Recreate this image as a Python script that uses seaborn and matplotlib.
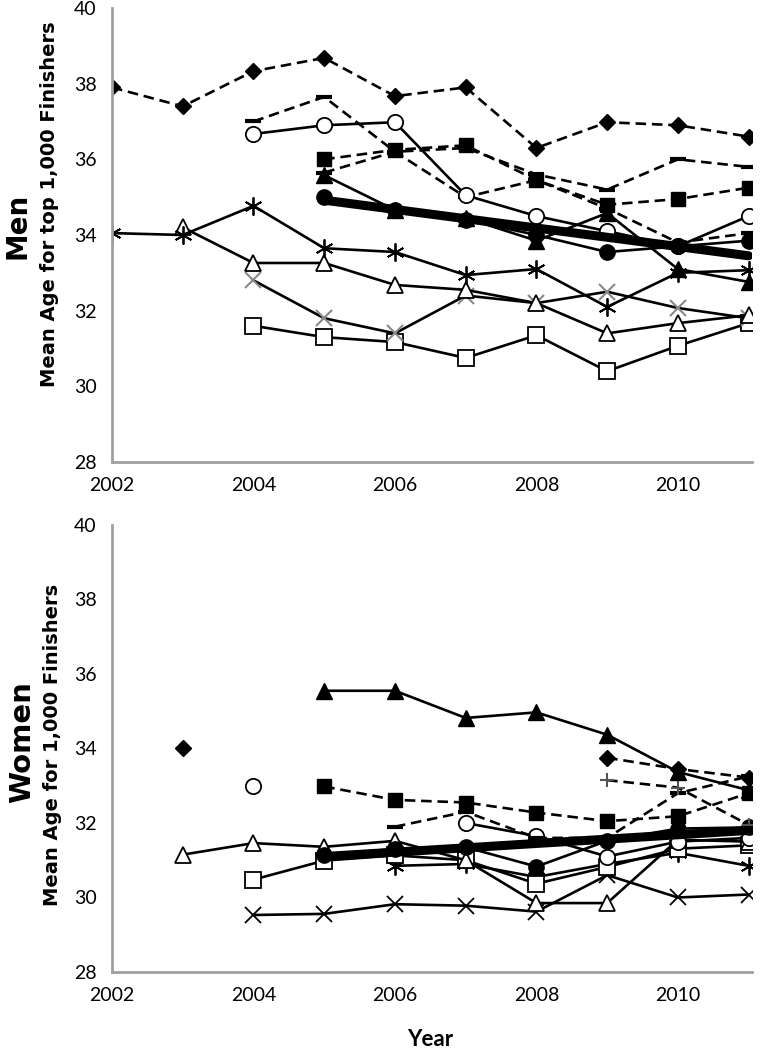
import numpy as np
import matplotlib
matplotlib.use("Agg")
import matplotlib.pyplot as plt
import seaborn as sns

nan = np.nan

# ====================
# DATA
# ====================
years = [2002, 2003, 2004, 2005, 2006, 2007, 2008, 2009, 2010, 2011]
trend_years = [2005, 2011]

men_diamond = [37.9, 37.4, 38.33, 38.68, 37.67, 37.9, 36.3, 36.98, 36.9, 36.6]
men_dash_a = [nan, nan, 37.0, 37.65, 36.2, 35.0, 35.45, 34.7, 33.8, 34.05]
men_dash_b = [nan, nan, nan, 35.65, 36.2, 36.3, 35.6, 35.2, 36.0, 35.8]
men_square_f = [nan, nan, nan, 36.0, 36.25, 36.37, 35.45, 34.8, 34.95, 35.25]
men_circle_o = [nan, nan, 36.67, 36.9, 36.98, 35.05, 34.5, 34.1, 33.7, 34.5]
men_triangle_f = [nan, nan, nan, 35.58, 34.66, 34.45, 33.85, 34.58, 33.1, 32.76]
men_circle_f = [nan, nan, nan, 35.0, 34.66, 34.4, 34.0, 33.55, 33.7, 33.85]
men_star = [34.05, 34.0, 34.77, 33.65, 33.55, 32.94, 33.1, 32.1, 33.0, 33.07]
men_triangle_o = [nan, 34.2, 33.26, 33.26, 32.68, 32.55, 32.2, 31.4, 31.67, 31.88]
men_x = [nan, nan, 32.8, 31.8, 31.4, 32.4, 32.2, 32.5, 32.07, 31.8]
men_square_o = [nan, nan, 31.6, 31.3, 31.17, 30.75, 31.35, 30.4, 31.07, 31.67]
men_trend = [34.92, 33.45]

women_diamond = [nan, 34.0, nan, nan, nan, nan, nan, 33.75, 33.45, 33.22]
women_plus = [nan, nan, nan, nan, nan, nan, nan, 33.15, 32.95, 31.95]
women_dash = [nan, nan, nan, nan, 31.9, 32.3, 31.6, 31.6, 32.8, 33.25]
women_square_f = [nan, nan, nan, 32.98, 32.62, 32.55, 32.28, 32.05, 32.18, 32.8]
women_triangle_f = [nan, nan, nan, 35.55, 35.55, 34.82, 34.97, 34.37, 33.37, 32.88]
women_circle_o = [nan, nan, 33.0, nan, nan, 32.0, 31.65, 31.1, 31.5, 31.6]
women_circle_f = [nan, nan, nan, 31.15, 31.3, 31.35, 30.83, 31.52, 31.85, 31.88]
women_triangle_o = [nan, 31.15, 31.46, 31.36, 31.52, 31.0, 29.85, 29.85, 31.55, 31.5]
women_square_o = [nan, nan, 30.48, 30.99, 31.13, 31.0, 30.37, 30.82, 31.31, 31.4]
women_star = [nan, nan, nan, nan, 30.85, 30.9, 30.55, 30.9, 31.2, 30.85]
women_x = [nan, nan, 29.53, 29.56, 29.82, 29.78, 29.62, 30.6, 30.0, 30.08]
women_trend = [31.1, 31.8]

# ====================
# STYLE
# ====================
sns.set_style("white")
plt.rcParams["font.family"] = ["Lato", "DejaVu Sans"]
plt.rcParams["text.color"] = "black"
plt.rcParams["xtick.labelcolor"] = "black"
plt.rcParams["ytick.labelcolor"] = "black"

AXIS_GRAY = "#a0a0a0"

# marker style per series kind: (marker, size, face, edge, linestyle, mew)
styles = {
    "diamond": ("D", 8, "black", "black", "--", 1.0),
    "dash": ("_", 11, "black", "black", "--", 3.0),
    "plus": ("+", 10, "black", "#555555", "--", 1.5),
    "square_f": ("s", 10, "black", "black", "--", 1.0),
    "circle_o": ("o", 11, "white", "black", "-", 1.3),
    "triangle_f": ("^", 11, "black", "black", "-", 1.0),
    "circle_f": ("o", 11, "black", "black", "-", 1.0),
    "star": ((6, 2, 0), 13, "black", "black", "-", 1.3),
    "triangle_o": ("^", 12, "white", "black", "-", 1.3),
    "x": ("x", 11, "#888888", "#888888", "-", 1.5),
    "square_o": ("s", 11, "white", "black", "-", 1.3),
    "xx": ("x", 11, "black", "black", "-", 1.3),
}


def draw_series(ax, values, kind):
    marker, ms, face, edge, ls, mew = styles[kind]
    vals = np.array(values, dtype=float)
    yrs = np.array(years)
    # split into contiguous runs so gaps stay gaps
    runs = []
    cur = []
    for i, v in enumerate(vals):
        if np.isnan(v):
            if cur:
                runs.append(cur)
            cur = []
        else:
            cur.append(i)
    if cur:
        runs.append(cur)
    for r in runs:
        sns.lineplot(
            x=yrs[r], y=vals[r], ax=ax, color="black", linewidth=1.9,
            linestyle=ls, marker=marker, markersize=ms,
            markerfacecolor=face, markeredgecolor=edge, markeredgewidth=mew,
            estimator=None, sort=False, legend=False,
        )
        if ls == "--":
            ax.lines[-1].set_dashes((4, 2.2))


def style_axes(ax):
    ax.set_xlim(2002, 2011.05)
    ax.set_ylim(28, 40)
    ax.set_xticks([2002, 2004, 2006, 2008, 2010])
    ax.set_yticks([28, 30, 32, 34, 36, 38, 40])
    ax.set_xlabel("")
    ax.set_ylabel("")
    for side in ["top", "right"]:
        ax.spines[side].set_visible(False)
    for side in ["left", "bottom"]:
        ax.spines[side].set_color(AXIS_GRAY)
        ax.spines[side].set_linewidth(2.0)
    ax.tick_params(axis="both", which="major", direction="out", length=6,
                   width=2.0, color=AXIS_GRAY, labelsize=14, pad=5)


fig = plt.figure(figsize=(7.63, 10.5), dpi=100)
ax_men = fig.add_axes([0.1468, 0.56, 0.839, 0.4324])
ax_women = fig.add_axes([0.1468, 0.0743, 0.839, 0.4257])

# ====================
# MEN
# ====================
draw_series(ax_men, men_diamond, "diamond")
draw_series(ax_men, men_dash_a, "dash")
draw_series(ax_men, men_dash_b, "dash")
draw_series(ax_men, men_square_f, "square_f")
draw_series(ax_men, men_square_o, "square_o")
draw_series(ax_men, men_x, "x")
draw_series(ax_men, men_triangle_o, "triangle_o")
draw_series(ax_men, men_star, "star")
draw_series(ax_men, men_circle_o, "circle_o")
draw_series(ax_men, men_triangle_f, "triangle_f")
draw_series(ax_men, men_circle_f, "circle_f")
sns.lineplot(x=trend_years, y=men_trend, ax=ax_men, color="black",
             linewidth=6.5, estimator=None, legend=False)
style_axes(ax_men)

# ====================
# WOMEN
# ====================
draw_series(ax_women, women_x, "xx")
draw_series(ax_women, women_star, "star")
draw_series(ax_women, women_square_o, "square_o")
draw_series(ax_women, women_triangle_o, "triangle_o")
draw_series(ax_women, women_circle_o, "circle_o")
draw_series(ax_women, women_circle_f, "circle_f")
draw_series(ax_women, women_square_f, "square_f")
draw_series(ax_women, women_dash, "dash")
draw_series(ax_women, women_plus, "plus")
draw_series(ax_women, women_diamond, "diamond")
draw_series(ax_women, women_triangle_f, "triangle_f")
sns.lineplot(x=trend_years, y=women_trend, ax=ax_women, color="black",
             linewidth=6.5, estimator=None, legend=False)
style_axes(ax_women)

# ====================
# LABELS
# ====================
big_font = ["DejaVu Sans"]
fig.text(18 / 763, 1 - 226 / 1050, "Men", rotation=90, ha="center", va="center",
         fontsize=20, fontweight="bold", family=big_font)
fig.text(50 / 763, 1 - 204 / 1050, "Mean Age for top 1,000 Finishers", rotation=90,
         ha="center", va="center", fontsize=14, fontweight="bold", family=big_font)
fig.text(22 / 763, 1 - 742 / 1050, "Women", rotation=90, ha="center", va="center",
         fontsize=21, fontweight="bold", family=big_font)
fig.text(53 / 763, 1 - 745 / 1050, "Mean Age for 1,000 Finishers", rotation=90,
         ha="center", va="center", fontsize=14, fontweight="bold", family=big_font)
fig.text(430 / 763, 1 - 1039 / 1050, "Year", ha="center", va="center",
         fontsize=16, fontweight="bold")

plt.savefig("out.png", dpi=100)
plt.close()
